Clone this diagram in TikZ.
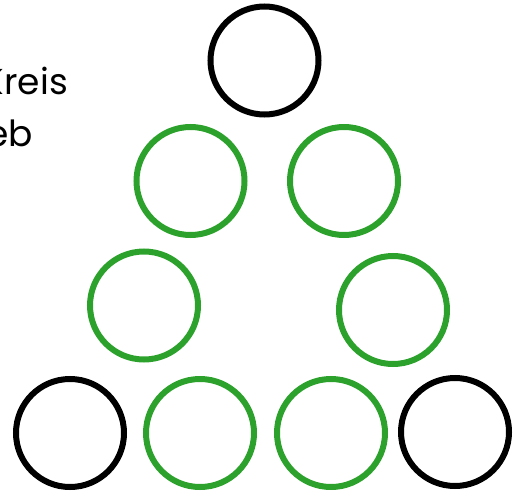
\documentclass[tikz,border=0pt]{standalone}
\usepackage{fontspec}
\setmainfont{Poppins}
\definecolor{ringgreen}{RGB}{44,162,44}
\begin{document}
\begin{tikzpicture}[x=1pt,y=-1pt,
  ring/.style={circle,draw,line width=6pt,minimum size=108pt,inner sep=0pt},
  blackring/.style={ring,draw=black},
  greenring/.style={ring,draw=ringgreen},
  lbl/.style={anchor=base east,inner sep=0pt,font=\fontsize{36}{40}\selectfont}]
\useasboundingbox (0,0) rectangle (524,497);
\clip (0,0) rectangle (524,497);
\node[blackring] (top) at (264.5,60.5) {};
\node[greenring] (r2l) at (190.5,181) {};
\node[greenring] (r2r) at (344,181) {};
\node[greenring] (r3l) at (144,305.5) {};
\node[greenring] (r3r) at (393,310) {};
\node[blackring] (b1) at (70,433) {};
\node[greenring] (b2) at (200,433) {};
\node[greenring] (b3) at (331,433) {};
\node[blackring] (b4) at (455,432) {};
\node[lbl] (t1) at (68,95) {Kreis};
\node[lbl] (t2) at (33,147) {eb};
\end{tikzpicture}
\end{document}
